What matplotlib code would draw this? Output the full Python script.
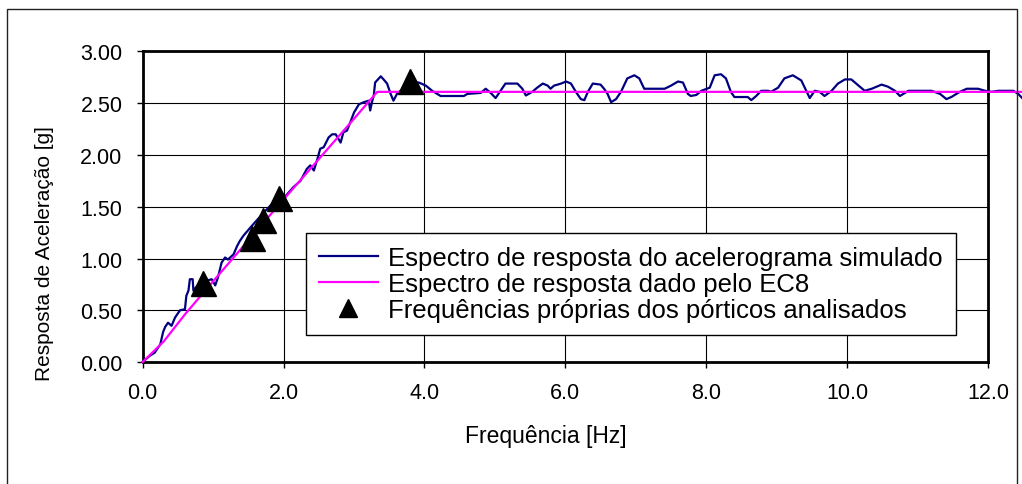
import numpy as np
import matplotlib
matplotlib.use("Agg")
import matplotlib.pyplot as plt
from matplotlib.patches import Rectangle

plt.rcParams['font.family'] = ['Liberation Sans', 'DejaVu Sans']

# espectro de resposta do acelerograma simulado
freq_sim = [0.00, 0.10, 0.17, 0.25, 0.29, 0.32, 0.36, 0.41, 0.46, 0.53, 0.60, 0.62,
            0.65, 0.67, 0.71, 0.72, 0.78, 0.93, 0.98, 1.03, 1.07, 1.12, 1.17, 1.21,
            1.29, 1.34, 1.38, 1.43, 1.53, 1.70, 1.84, 1.98, 2.05, 2.14, 2.24, 2.33,
            2.38, 2.43, 2.48, 2.52, 2.57, 2.64, 2.69, 2.74, 2.78, 2.81, 2.85, 2.90,
            2.95, 3.00, 3.07, 3.14, 3.21, 3.23, 3.26, 3.28, 3.30, 3.38, 3.42, 3.47,
            3.52, 3.56, 3.61, 3.66, 3.73, 3.83, 3.92, 4.02, 4.11, 4.23, 4.56, 4.61,
            4.80, 4.87, 4.94, 5.01, 5.08, 5.15, 5.32, 5.39, 5.44, 5.53, 5.60, 5.68,
            5.75, 5.79, 5.84, 5.94, 6.01, 6.08, 6.15, 6.22, 6.27, 6.32, 6.39, 6.50,
            6.55, 6.60, 6.65, 6.72, 6.79, 6.88, 6.98, 7.05, 7.12, 7.41, 7.50, 7.60,
            7.67, 7.74, 7.78, 7.86, 7.93, 8.05, 8.12, 8.21, 8.28, 8.35, 8.40, 8.59,
            8.64, 8.71, 8.78, 8.88, 8.92, 9.02, 9.11, 9.23, 9.35, 9.42, 9.47, 9.54,
            9.61, 9.68, 9.78, 9.87, 9.97, 10.06, 10.25, 10.35, 10.49, 10.58, 10.68,
            10.75, 10.87, 11.20, 11.32, 11.41, 11.48, 11.60, 11.70, 11.86, 11.96,
            12.05, 12.15, 12.36, 12.43, 12.50]
acel_sim = [0.00, 0.06, 0.09, 0.17, 0.29, 0.34, 0.38, 0.35, 0.43, 0.50, 0.51, 0.64,
            0.69, 0.80, 0.80, 0.69, 0.74, 0.79, 0.80, 0.74, 0.82, 0.96, 1.01, 0.99,
            1.04, 1.12, 1.17, 1.22, 1.30, 1.43, 1.53, 1.57, 1.62, 1.69, 1.75, 1.865,
            1.90, 1.85, 1.96, 2.06, 2.075, 2.17, 2.20, 2.20, 2.155, 2.12, 2.22, 2.235,
            2.32, 2.41, 2.49, 2.51, 2.525, 2.43, 2.525, 2.57, 2.70, 2.76, 2.73, 2.69,
            2.59, 2.525, 2.59, 2.62, 2.66, 2.70, 2.70, 2.67, 2.62, 2.57, 2.57, 2.59,
            2.60, 2.64, 2.60, 2.55, 2.62, 2.69, 2.69, 2.64, 2.575, 2.61, 2.65, 2.69,
            2.67, 2.64, 2.67, 2.69, 2.71, 2.69, 2.61, 2.54, 2.53, 2.61, 2.69, 2.68,
            2.64, 2.59, 2.51, 2.54, 2.61, 2.74, 2.77, 2.74, 2.64, 2.64, 2.67, 2.71,
            2.70, 2.59, 2.57, 2.58, 2.62, 2.65, 2.77, 2.78, 2.74, 2.61, 2.56, 2.56,
            2.53, 2.57, 2.62, 2.62, 2.61, 2.65, 2.74, 2.77, 2.72, 2.62, 2.55, 2.62,
            2.61, 2.57, 2.62, 2.69, 2.73, 2.73, 2.62, 2.64, 2.68, 2.66, 2.62,
            2.57, 2.62, 2.62, 2.59, 2.54, 2.56, 2.61, 2.64, 2.64, 2.62,
            2.61, 2.62, 2.62, 2.59, 2.54]

# espectro de resposta do EC8
freq_ec8 = [0.00, 0.30, 0.60, 1.00, 2.00, 3.00, 3.33, 12.50]
acel_ec8 = [0.00, 0.20, 0.46, 0.78, 1.57, 2.35, 2.61, 2.61]

# frequencias proprias dos porticos
freq_port = [0.86, 1.55, 1.71, 1.93, 3.80]
acel_port = [0.76, 1.20, 1.37, 1.58, 2.71]

fig = plt.figure(figsize=(10.22, 4.85), dpi=100)
ax = fig.add_axes([0.1396, 0.2515, 0.8271, 0.6403])

ax.plot(freq_sim, acel_sim, color='#000080', lw=1.6, clip_on=False,
        label='Espectro de resposta do acelerograma simulado', zorder=3)
ax.plot(freq_ec8, acel_ec8, color='#FF00FF', lw=1.6, clip_on=False,
        label='Espectro de resposta dado pelo EC8', zorder=4)
ax.plot(freq_port, acel_port, '^', color='black', ms=18, clip_on=False,
        label='Frequências próprias dos pórticos analisados', zorder=5)

ax.set_xlim(0, 12)
ax.set_ylim(0, 3)
ax.set_xticks(np.arange(0, 12.1, 2))
ax.set_yticks(np.arange(0, 3.01, 0.5))
ax.set_xticklabels(['%.1f' % v for v in np.arange(0, 12.1, 2)])
ax.set_yticklabels(['%.2f' % v for v in np.arange(0, 3.01, 0.5)])
ax.tick_params(labelsize=15.5, length=4.5, width=1, pad=10, direction='out')
ax.grid(True, color='black', lw=0.8)
ax.set_axisbelow(True)
for s in ax.spines.values():
    s.set_linewidth(2)

ax.set_xlabel('Frequência [Hz]', fontsize=16.5, va='center')
ax.xaxis.set_label_coords(0.477, -0.238)
ax.set_ylabel('Resposta de Aceleração [g]', fontsize=15, va='center')
ax.yaxis.set_label_coords(-0.116, 0.354)

leg = ax.legend(loc='lower left', bbox_to_anchor=(0.193, 0.087), borderaxespad=0,
                fontsize=18.5, fancybox=False, edgecolor='black', framealpha=1,
                labelspacing=0.08, handlelength=2.3, handletextpad=0.4,
                markerscale=0.72, borderpad=0.5)
leg.get_frame().set_linewidth(1)
leg.set_zorder(10)

fig.patches.append(Rectangle((0.0068, -0.1), 0.988, 1.079, transform=fig.transFigure,
                             fill=False, edgecolor='#222222', lw=1))

fig.savefig('out.png', dpi=100)
